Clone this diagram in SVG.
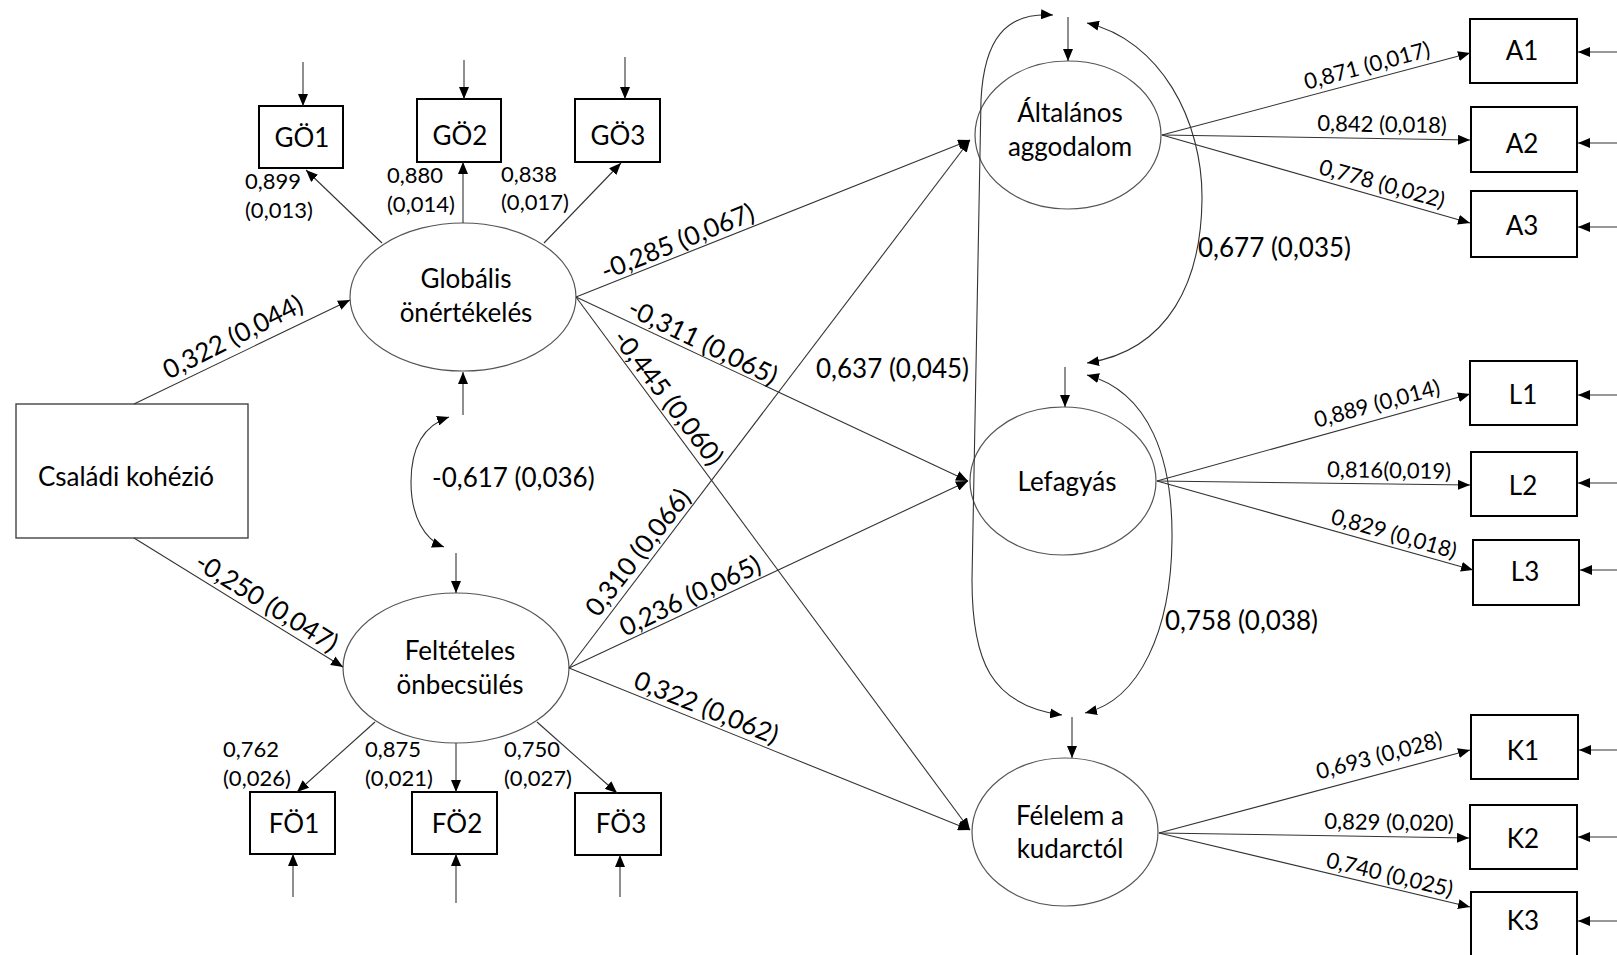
<svg xmlns="http://www.w3.org/2000/svg" width="1617" height="955" viewBox="0 0 1617 955">
<style>
.t{font-family:Lato,"Liberation Sans",sans-serif;fill:#000}
.big{font-size:26px}
.sm{font-size:22px}
.lbl{font-size:26px}
.box{fill:#fff;stroke:#000;stroke-width:2}
.cbox{fill:#fff;stroke:#444;stroke-width:1.4}
.ell{fill:#fff;stroke:#555;stroke-width:1.2}
.c{stroke:#333;stroke-width:1.1;fill:none}
.a{marker-end:url(#ah)}
.aa{marker-start:url(#ah);marker-end:url(#ah)}
</style>
<defs>
<marker id="ah" viewBox="0 0 12 10" refX="12" refY="5" markerWidth="12" markerHeight="10" markerUnits="userSpaceOnUse" orient="auto-start-reverse">
<path d="M0,0 L12,5 L0,10 z" fill="#000"/>
</marker>
</defs>
<rect width="1617" height="955" fill="#fff"/>

<g id="csaladi"><rect class="cbox" x="16" y="404" width="232" height="134"/><text class="t big" x="126" y="486" text-anchor="middle">Családi kohézió</text></g>
<g id="globalis"><ellipse class="ell" cx="463" cy="297" rx="113" ry="74"/><text class="t big" x="466" y="288" text-anchor="middle">Globális</text><text class="t big" x="466" y="322" text-anchor="middle">önértékelés</text></g>
<g id="felteteles"><ellipse class="ell" cx="456" cy="668" rx="113" ry="75"/><text class="t big" x="460" y="660" text-anchor="middle">Feltételes</text><text class="t big" x="460" y="694" text-anchor="middle">önbecsülés</text></g>
<g id="altalanos"><ellipse class="ell" cx="1068" cy="135" rx="93" ry="74"/><text class="t big" x="1070" y="122" text-anchor="middle">Általános</text><text class="t big" x="1070" y="156" text-anchor="middle">aggodalom</text></g>
<g id="lefagyas"><ellipse class="ell" cx="1063" cy="481" rx="93" ry="74"/><text class="t big" x="1067" y="491" text-anchor="middle">Lefagyás</text></g>
<g id="felelem"><ellipse class="ell" cx="1065" cy="832" rx="93" ry="74"/><text class="t big" x="1070" y="825" text-anchor="middle">Félelem a</text><text class="t big" x="1070" y="858" text-anchor="middle">kudarctól</text></g>

<g id="go1"><rect class="box" x="259" y="106" width="84" height="62"/><text class="t big" x="302" y="147" text-anchor="middle">GÖ1</text></g>
<g id="go2"><rect class="box" x="417" y="99" width="84" height="63"/><text class="t big" x="460" y="145" text-anchor="middle">GÖ2</text></g>
<g id="go3"><rect class="box" x="575" y="99" width="85" height="63"/><text class="t big" x="618" y="145" text-anchor="middle">GÖ3</text></g>
<g id="fo1"><rect class="box" x="250" y="792" width="85" height="62"/><text class="t big" x="294" y="833" text-anchor="middle">FÖ1</text></g>
<g id="fo2"><rect class="box" x="412" y="792" width="85" height="62"/><text class="t big" x="457" y="833" text-anchor="middle">FÖ2</text></g>
<g id="fo3"><rect class="box" x="575" y="793" width="86" height="62"/><text class="t big" x="621" y="833" text-anchor="middle">FÖ3</text></g>
<g id="a1"><rect class="box" x="1470" y="19" width="107" height="64"/><text class="t big" x="1522" y="60" text-anchor="middle">A1</text></g>
<g id="a2"><rect class="box" x="1471" y="107" width="106" height="65"/><text class="t big" x="1522" y="153" text-anchor="middle">A2</text></g>
<g id="a3"><rect class="box" x="1471" y="191" width="106" height="66"/><text class="t big" x="1522" y="235" text-anchor="middle">A3</text></g>
<g id="l1"><rect class="box" x="1470" y="361" width="107" height="64"/><text class="t big" x="1523" y="404" text-anchor="middle">L1</text></g>
<g id="l2"><rect class="box" x="1471" y="452" width="106" height="64"/><text class="t big" x="1523" y="495" text-anchor="middle">L2</text></g>
<g id="l3"><rect class="box" x="1473" y="540" width="106" height="65"/><text class="t big" x="1525" y="581" text-anchor="middle">L3</text></g>
<g id="k1"><rect class="box" x="1471" y="715" width="107" height="64"/><text class="t big" x="1523" y="760" text-anchor="middle">K1</text></g>
<g id="k2"><rect class="box" x="1470" y="805" width="107" height="64"/><text class="t big" x="1523" y="848" text-anchor="middle">K2</text></g>
<g id="k3"><rect class="box" x="1471" y="892" width="106" height="66"/><text class="t big" x="1523" y="930" text-anchor="middle">K3</text></g>

<g id="connectors">
<path class="c a" d="M134,404 L350,300"/>
<path class="c a" d="M134,538 L343,667"/>
<path class="c a" d="M382,243 L306,170"/>
<path class="c a" d="M463,223 L463,162"/>
<path class="c a" d="M544,243 L621,163"/>
<path class="c a" d="M375,722 L297,792"/>
<path class="c a" d="M456,743 L456,792"/>
<path class="c a" d="M537,722 L617,793"/>
<path class="c a" d="M576,297 L970,140"/>
<path class="c a" d="M576,297 L968,481"/>
<path class="c a" d="M576,297 L970,830"/>
<path class="c a" d="M569,668 L970,140"/>
<path class="c a" d="M569,668 L968,481"/>
<path class="c a" d="M569,668 L970,830"/>
<path class="c a" d="M1162,135 L1470,53"/>
<path class="c a" d="M1162,135 L1470,140"/>
<path class="c a" d="M1162,135 L1470,223"/>
<path class="c a" d="M1157,481 L1470,394"/>
<path class="c a" d="M1157,481 L1470,485"/>
<path class="c a" d="M1157,481 L1473,570"/>
<path class="c a" d="M1159,833 L1470,750"/>
<path class="c a" d="M1159,833 L1469,838"/>
<path class="c a" d="M1159,833 L1470,907"/>
<path class="c a" d="M303,62 L303,106"/>
<path class="c a" d="M464,60 L464,99"/>
<path class="c a" d="M625,57 L625,99"/>
<path class="c a" d="M293,897 L293,854"/>
<path class="c a" d="M456,903 L456,854"/>
<path class="c a" d="M620,897 L620,855"/>
<path class="c a" d="M463,415 L463,372"/>
<path class="c a" d="M456,553 L456,593"/>
<path class="c a" d="M1068,17 L1068,61"/>
<path class="c a" d="M1065,367 L1065,407"/>
<path class="c a" d="M1072,717 L1072,758"/>
<path class="c a" d="M1617,52 L1578,52"/>
<path class="c a" d="M1617,143 L1578,143"/>
<path class="c a" d="M1617,227 L1578,227"/>
<path class="c a" d="M1617,395 L1578,395"/>
<path class="c a" d="M1617,483 L1578,483"/>
<path class="c a" d="M1617,570 L1580,570"/>
<path class="c a" d="M1617,750 L1579,750"/>
<path class="c a" d="M1617,837 L1578,837"/>
<path class="c a" d="M1617,921 L1578,921"/>
<path class="c aa" d="M449,417 C425,425 411,445 411,482 C411,517 425,540 444,547"/>
<path class="c aa" d="M1087,23 C1160,40 1203,120 1202,200 C1201,280 1170,350 1087,363"/>
<path class="c aa" d="M1087,375 C1150,392 1173,460 1172,540 C1171,630 1140,700 1085,713"/>
<path class="c aa" d="M1053,15 C1005,12 984,40 981,100 L972,580 C972,660 990,705 1062,715"/>
</g>

<g id="labels">
<text class="t lbl" text-anchor="middle" transform="translate(237,345) rotate(-27)">0,322 (0,044)</text>
<text class="t lbl" text-anchor="middle" transform="translate(262,610) rotate(32)">-0,250 (0,047)</text>
<text class="t lbl" x="432" y="487">-0,617 (0,036)</text>
<text class="t lbl" text-anchor="middle" transform="translate(681,250) rotate(-22)">-0,285 (0,067)</text>
<text class="t lbl" text-anchor="middle" transform="translate(699,350) rotate(26)">-0,311 (0,065)</text>
<text class="t lbl" text-anchor="middle" transform="translate(661,403) rotate(52.5)">-0,445 (0,060)</text>
<text class="t lbl" text-anchor="middle" transform="translate(645,558) rotate(-52)">0,310 (0,066)</text>
<text class="t lbl" text-anchor="middle" transform="translate(694,604) rotate(-25.5)">0,236 (0,065)</text>
<text class="t lbl" text-anchor="middle" transform="translate(703,716) rotate(22)">0,322 (0,062)</text>
<text class="t lbl" x="816" y="378">0,637 (0,045)</text>
<text class="t lbl" x="1198" y="257">0,677 (0,035)</text>
<text class="t lbl" x="1165" y="630">0,758 (0,038)</text>
<text class="t sm" x="245" y="189">0,899</text>
<text class="t sm" x="245" y="218">(0,013)</text>
<text class="t sm" x="387" y="183">0,880</text>
<text class="t sm" x="387" y="212">(0,014)</text>
<text class="t sm" x="501" y="182">0,838</text>
<text class="t sm" x="501" y="210">(0,017)</text>
<text class="t sm" x="223" y="757">0,762</text>
<text class="t sm" x="223" y="786">(0,026)</text>
<text class="t sm" x="365" y="757">0,875</text>
<text class="t sm" x="365" y="786">(0,021)</text>
<text class="t sm" x="504" y="757">0,750</text>
<text class="t sm" x="504" y="786">(0,027)</text>
<text class="t sm" text-anchor="middle" transform="translate(1369,73) rotate(-15)">0,871 (0,017)</text>
<text class="t sm" text-anchor="middle" transform="translate(1382,132) rotate(1)">0,842 (0,018)</text>
<text class="t sm" text-anchor="middle" transform="translate(1380,191) rotate(15.5)">0,778 (0,022)</text>
<text class="t sm" text-anchor="middle" transform="translate(1379,411) rotate(-15)">0,889 (0,014)</text>
<text class="t sm" text-anchor="middle" transform="translate(1389,478) rotate(1)">0,816(0,019)</text>
<text class="t sm" text-anchor="middle" transform="translate(1392,541) rotate(16)">0,829 (0,018)</text>
<text class="t sm" text-anchor="middle" transform="translate(1381,763) rotate(-14.8)">0,693 (0,028)</text>
<text class="t sm" text-anchor="middle" transform="translate(1389,830) rotate(1)">0,829 (0,020)</text>
<text class="t sm" text-anchor="middle" transform="translate(1388,882) rotate(13.4)">0,740 (0,025)</text>
</g>
</svg>
